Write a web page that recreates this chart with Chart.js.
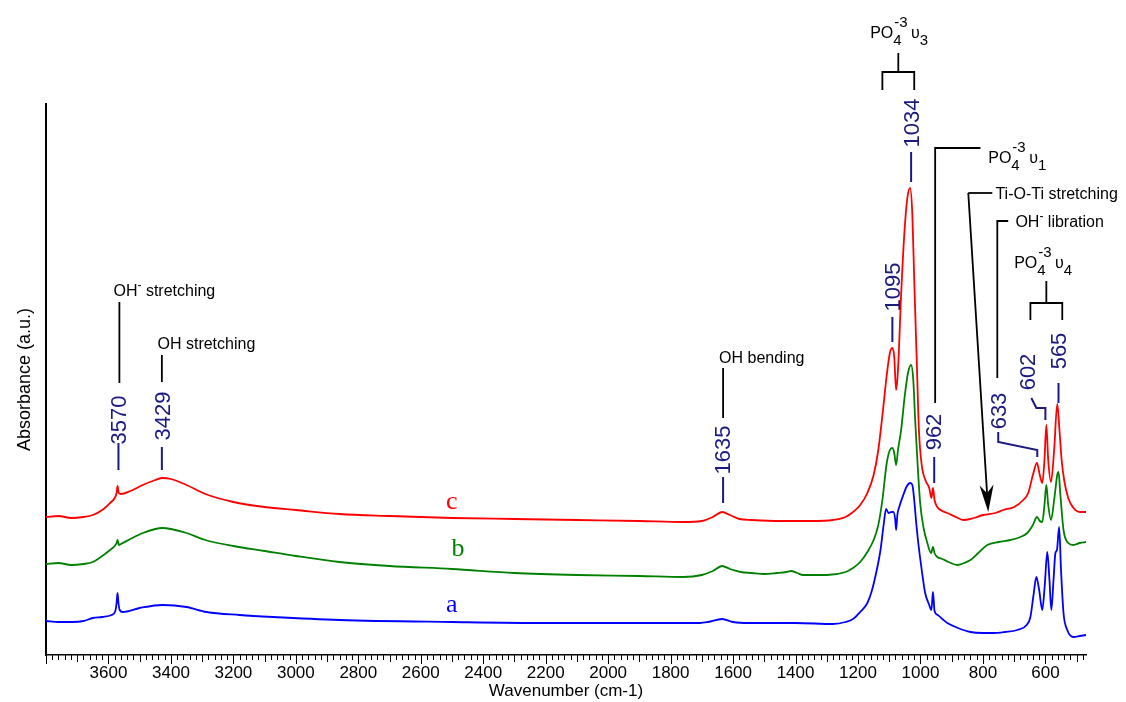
<!DOCTYPE html>
<html>
<head>
<meta charset="utf-8">
<script src="https://cdn.jsdelivr.net/npm/chart.js@4.4.1/dist/chart.umd.min.js"></script>
<style>
  body { margin: 0; background: #fff; }
  canvas { display: block; }
</style>
</head>
<body>
<canvas id="ftir" width="1126" height="702"></canvas>
<script>
// spectra: wavenumber (cm-1) and absorbance (a.u., stacked)
const cWn = [3800,3760,3720,3680,3650,3620,3595,3580,3574,3571,3567,3560,3530,3490,3450,3427,3400,3350,3290,3200,3100,3000,2860,2700,2500,2300,2100,1900,1760,1700,1665,1635,1610,1580,1540,1450,1350,1280,1240,1216,1193,1170,1150,1135,1120,1108,1098,1090,1084,1078,1072,1062,1052,1042,1033,1026,1020,1012,1005,996,983,972,965,960,955,946,930,914,880,863,830,799,760,735,700,671,655,640,627,618,610,603,597,591,582,572,562,555,548,540,527,510,490,470]
const cAbs = [1.38,1.39,1.37,1.38,1.40,1.45,1.52,1.57,1.62,1.69,1.62,1.61,1.64,1.70,1.75,1.77,1.76,1.70,1.61,1.53,1.48,1.45,1.41,1.39,1.37,1.36,1.35,1.34,1.33,1.34,1.38,1.43,1.40,1.36,1.35,1.34,1.34,1.35,1.38,1.43,1.50,1.62,1.80,2.05,2.45,2.80,3.02,3.07,2.98,2.65,2.85,3.60,4.20,4.57,4.67,4.40,3.75,2.95,2.25,1.90,1.74,1.67,1.57,1.67,1.55,1.48,1.44,1.42,1.37,1.35,1.37,1.40,1.42,1.45,1.48,1.55,1.62,1.80,1.92,1.80,1.72,1.95,2.30,1.95,1.73,2.05,2.51,2.25,1.95,1.75,1.57,1.47,1.43,1.43]

const bWn = [3800,3760,3720,3680,3650,3620,3595,3580,3574,3571,3567,3560,3530,3490,3450,3427,3400,3350,3290,3200,3100,3000,2860,2700,2500,2300,2100,1900,1760,1700,1665,1635,1610,1575,1540,1500,1460,1430,1415,1395,1376,1300,1240,1216,1193,1170,1150,1135,1122,1108,1098,1090,1084,1078,1072,1062,1050,1040,1030,1023,1017,1009,1001,990,978,966,960,955,946,930,910,882,860,840,815,786,750,712,680,658,640,627,618,610,603,597,591,582,572,562,558,552,542,527,510,490,470]
const bAbs = [0.91,0.92,0.90,0.91,0.93,0.99,1.05,1.09,1.12,1.15,1.10,1.11,1.16,1.22,1.26,1.27,1.26,1.22,1.15,1.09,1.04,0.99,0.93,0.89,0.86,0.82,0.80,0.79,0.78,0.80,0.84,0.89,0.86,0.83,0.82,0.81,0.82,0.83,0.84,0.82,0.80,0.80,0.83,0.87,0.93,1.03,1.15,1.30,1.55,1.92,2.05,2.07,2.02,1.90,2.05,2.25,2.60,2.82,2.90,2.75,2.35,1.90,1.52,1.27,1.12,1.02,1.08,1.02,0.98,0.96,0.93,0.90,0.92,0.95,1.02,1.10,1.13,1.15,1.18,1.22,1.30,1.38,1.34,1.33,1.50,1.70,1.50,1.35,1.55,1.80,1.83,1.60,1.25,1.12,1.10,1.12,1.13]

const aWn = [3800,3760,3715,3680,3650,3620,3590,3578,3574,3571,3568,3564,3555,3500,3427,3350,3286,3180,3074,2860,2500,2200,2026,1800,1706,1680,1635,1600,1550,1400,1280,1240,1216,1193,1170,1155,1140,1128,1118,1110,1102,1093,1087,1081,1078,1074,1068,1055,1045,1033,1026,1020,1013,1007,996,985,972,965,960,955,945,930,914,880,840,800,767,730,690,660,648,638,629,620,610,602,594,587,581,574,568,563,556,550,542,530,510,490,470]
const aAbs = [0.34,0.33,0.33,0.34,0.37,0.38,0.40,0.44,0.52,0.62,0.52,0.45,0.43,0.47,0.50,0.48,0.43,0.40,0.38,0.35,0.33,0.32,0.32,0.32,0.32,0.33,0.36,0.33,0.32,0.32,0.31,0.33,0.36,0.43,0.52,0.65,0.85,1.05,1.30,1.46,1.42,1.43,1.43,1.36,1.25,1.40,1.48,1.60,1.68,1.72,1.70,1.55,1.30,1.12,0.85,0.62,0.50,0.45,0.63,0.44,0.40,0.36,0.32,0.27,0.23,0.22,0.22,0.23,0.25,0.30,0.38,0.60,0.78,0.65,0.45,0.70,1.03,0.75,0.45,0.75,1.02,1.05,1.28,0.85,0.42,0.25,0.18,0.19,0.20]

const xTicks = [3600,3400,3200,3000,2800,2600,2400,2200,2000,1800,1600,1400,1200,1000,800,600]

// peak numbers (navy): text centre + leader line, in data units
const peakLabels = [
  { text: '3570', wn: 3565, y: 2.35, leader: [[3568,1.85],[3568,2.12]] },
  { text: '3429', wn: 3427, y: 2.39, leader: [[3429,1.85],[3429,2.08]] },
  { text: '1635', wn: 1632, y: 2.05, leader: [[1632,1.52],[1632,1.78]] },
  { text: '1095', wn: 1087, y: 3.68, leader: [[1090,3.13],[1090,3.38]] },
  { text: '1034', wn: 1027, y: 5.32, leader: [[1030,4.73],[1030,5.03]] },
  { text: '962',  wn: 956,  y: 2.23, leader: [[956,1.72],[956,1.98]] },
  { text: '633',  wn: 748,  y: 2.44, leader: [[751,2.23],[751,2.13],[626,2.05],[626,1.98]] },
  { text: '602',  wn: 655,  y: 2.83, leader: [[645,2.57],[629,2.47],[600,2.47],[600,2.35]] },
  { text: '565',  wn: 558,  y: 3.04, leader: [[558,2.52],[558,2.72]] }
]

// assignments (black): left edge + baseline
const notes = [
  { wn: 3584, y: 3.59, parts: [{t:'OH'},{sup:'-'},{t:' stretching'}] },
  { wn: 3443, y: 3.06, parts: [{t:'OH stretching'}] },
  { wn: 1645, y: 2.92, parts: [{t:'OH bending'}] },
  { wn: 1161, y: 6.17, parts: [{t:'PO'},{sub:'4',sup:'-3'},{t:' υ'},{sub:'3'}] },
  { wn: 783,  y: 4.92, parts: [{t:'PO'},{sub:'4',sup:'-3'},{t:' υ'},{sub:'1'}] },
  { wn: 760,  y: 4.56, parts: [{t:'Ti-O-Ti stretching'}] },
  { wn: 696,  y: 4.28, parts: [{t:'OH'},{sup:'-'},{t:' libration'}] },
  { wn: 700,  y: 3.87, parts: [{t:'PO'},{sub:'4',sup:'-3'},{t:' υ'},{sub:'4'}] }
]

const noteLines = [
  [[3565,2.72],[3565,3.53]],
  [[3429,2.73],[3429,3.00]],
  [[1632,2.37],[1632,2.87]],
  [[1122,5.65],[1122,5.83],[1020,5.83],[1020,5.65]],
  [[1071,5.83],[1071,6.02]],
  [[953,2.52],[953,5.07],[808,5.07]],
  [[770,4.62],[847,4.62]],
  [[719,4.34],[754,4.34],[754,2.77]],
  [[648,3.35],[648,3.52],[546,3.52],[546,3.35]],
  [[597,3.52],[597,3.74]]
]
const arrowFrom = [847, 4.62]
const arrowTo = [783, 1.43]

const curveNames = [
  { text: 'c', wn: 2501, y: 1.53, color: '#ff0000' },
  { text: 'b', wn: 2481, y: 1.06, color: '#008000' },
  { text: 'a', wn: 2501, y: 0.50, color: '#0000ff' }
]

const FONT = '"Liberation Sans", Arial, sans-serif'
const NAVY = '#1a1a80'

function toPoints(wn, abs) {
  return wn.map((w, i) => ({ x: w, y: abs[i] }))
}

function polyline(ctx, pts) {
  ctx.beginPath()
  pts.forEach((p, i) => i ? ctx.lineTo(p[0], p[1]) : ctx.moveTo(p[0], p[1]))
  ctx.stroke()
}

function richText(ctx, x, y, parts) {
  let cx = x
  parts.forEach(p => {
    if (p.t) {
      ctx.font = '16px ' + FONT
      ctx.fillText(p.t, cx, y)
      cx += ctx.measureText(p.t).width
    } else {
      let w = 0
      ctx.font = '15px ' + FONT
      if (p.sub) { ctx.fillText(p.sub, cx, y + 7); w = ctx.measureText(p.sub).width }
      if (p.sup) {
        ctx.font = (p.sub ? '15px ' : '12px ') + FONT
        ctx.fillText(p.sup, cx + (p.sub ? 1 : 0), y - (p.sub ? 11 : 7))
        w = Math.max(w, ctx.measureText(p.sup).width)
      }
      cx += w
    }
  })
}

const annotations = {
  id: 'annotations',
  afterDraw(chart) {
    const ctx = chart.ctx
    const xs = chart.scales.x, ys = chart.scales.y
    const px = p => [xs.getPixelForValue(p[0]), ys.getPixelForValue(p[1])]
    ctx.save()

    // x-axis tick marks, every 20 cm-1
    ctx.strokeStyle = '#000'
    ctx.lineWidth = 1
    const base = chart.chartArea.bottom
    for (let w = 480; w <= 3800; w += 20) {
      const x = Math.round(xs.getPixelForValue(w)) + 0.5
      const len = w % 200 === 0 ? 9 : (w % 100 === 0 ? 7 : 5)
      ctx.beginPath()
      ctx.moveTo(x, base)
      ctx.lineTo(x, base + len)
      ctx.stroke()
    }

    // navy peak positions
    ctx.strokeStyle = NAVY
    ctx.fillStyle = NAVY
    ctx.lineWidth = 2
    ctx.textAlign = 'center'
    ctx.textBaseline = 'middle'
    ctx.font = '22px ' + FONT
    peakLabels.forEach(l => {
      polyline(ctx, l.leader.map(px))
      const [tx, ty] = px([l.wn, l.y])
      ctx.save()
      ctx.translate(tx, ty)
      ctx.rotate(-Math.PI / 2)
      ctx.fillText(l.text, 0, 1)
      ctx.restore()
    })

    // black assignments
    ctx.strokeStyle = '#000'
    ctx.fillStyle = '#000'
    ctx.lineWidth = 1.8
    noteLines.forEach(l => polyline(ctx, l.map(px)))
    const [ax0, ay0] = px(arrowFrom)
    const [ax1, ay1] = px(arrowTo)
    const ang = Math.atan2(ay1 - ay0, ax1 - ax0)
    const head = 27, half = 7
    polyline(ctx, [[ax0, ay0], [ax1 - Math.cos(ang) * head * 0.7, ay1 - Math.sin(ang) * head * 0.7]])
    ctx.beginPath()
    ctx.moveTo(ax1, ay1)
    ctx.lineTo(ax1 - Math.cos(ang) * head - Math.sin(ang) * half, ay1 - Math.sin(ang) * head + Math.cos(ang) * half)
    ctx.lineTo(ax1 - Math.cos(ang) * head * 0.7, ay1 - Math.sin(ang) * head * 0.7)
    ctx.lineTo(ax1 - Math.cos(ang) * head + Math.sin(ang) * half, ay1 - Math.sin(ang) * head - Math.cos(ang) * half)
    ctx.closePath()
    ctx.fill()

    ctx.textAlign = 'left'
    ctx.textBaseline = 'alphabetic'
    notes.forEach(n => {
      const [x, y] = px([n.wn, n.y])
      richText(ctx, x, y, n.parts)
    })

    // curve names
    ctx.textAlign = 'center'
    ctx.textBaseline = 'middle'
    ctx.font = '26px "Liberation Serif", "Times New Roman", serif'
    curveNames.forEach(c => {
      const [x, y] = px([c.wn, c.y])
      ctx.fillStyle = c.color
      ctx.fillText(c.text, x, y)
    })
    ctx.restore()
  }
}

const el = document.getElementById('ftir')
new Chart(el, {
  type: 'line',
  data: {
    datasets: [
      { label: 'c', data: toPoints(cWn, cAbs), borderColor: '#ff0000' },
      { label: 'b', data: toPoints(bWn, bAbs), borderColor: '#008000' },
      { label: 'a', data: toPoints(aWn, aAbs), borderColor: '#0000ff' }
    ]
  },
  options: {
    responsive: false,
    devicePixelRatio: 1,
    animation: false,
    layout: { padding: { top: 104, right: 40, left: 0, bottom: 0 } },
    elements: {
      point: { radius: 0 },
      line: { borderWidth: 1.8, cubicInterpolationMode: 'monotone', fill: false }
    },
    plugins: { legend: { display: false }, tooltip: { enabled: false } },
    scales: {
      x: {
        type: 'linear',
        reverse: true,
        min: 470,
        max: 3800,
        afterFit: s => { s.height = 47 },
        grid: { display: false, drawTicks: false },
        border: { color: '#000', width: 1.5 },
        afterBuildTicks: s => { s.ticks = xTicks.map(v => ({ value: v })) },
        ticks: {
          color: '#000',
          font: { family: FONT, size: 17 },
          padding: 8,
          maxRotation: 0,
          autoSkip: false,
          callback: v => String(v)
        },
        title: {
          display: true,
          text: 'Wavenumber (cm-1)',
          color: '#000',
          font: { family: FONT, size: 17 },
          padding: { top: 0, bottom: 0 }
        }
      },
      y: {
        min: 0,
        max: 5.51,
        afterFit: s => { s.width = 46 },
        grid: { display: false, drawTicks: false },
        border: { color: '#000', width: 2 },
        ticks: { display: false },
        title: {
          display: true,
          text: 'Absorbance (a.u.)',
          color: '#000',
          font: { family: FONT, size: 18 },
          padding: { top: 14, bottom: 0 }
        }
      }
    }
  },
  plugins: [annotations]
})
</script>
</body>
</html>
